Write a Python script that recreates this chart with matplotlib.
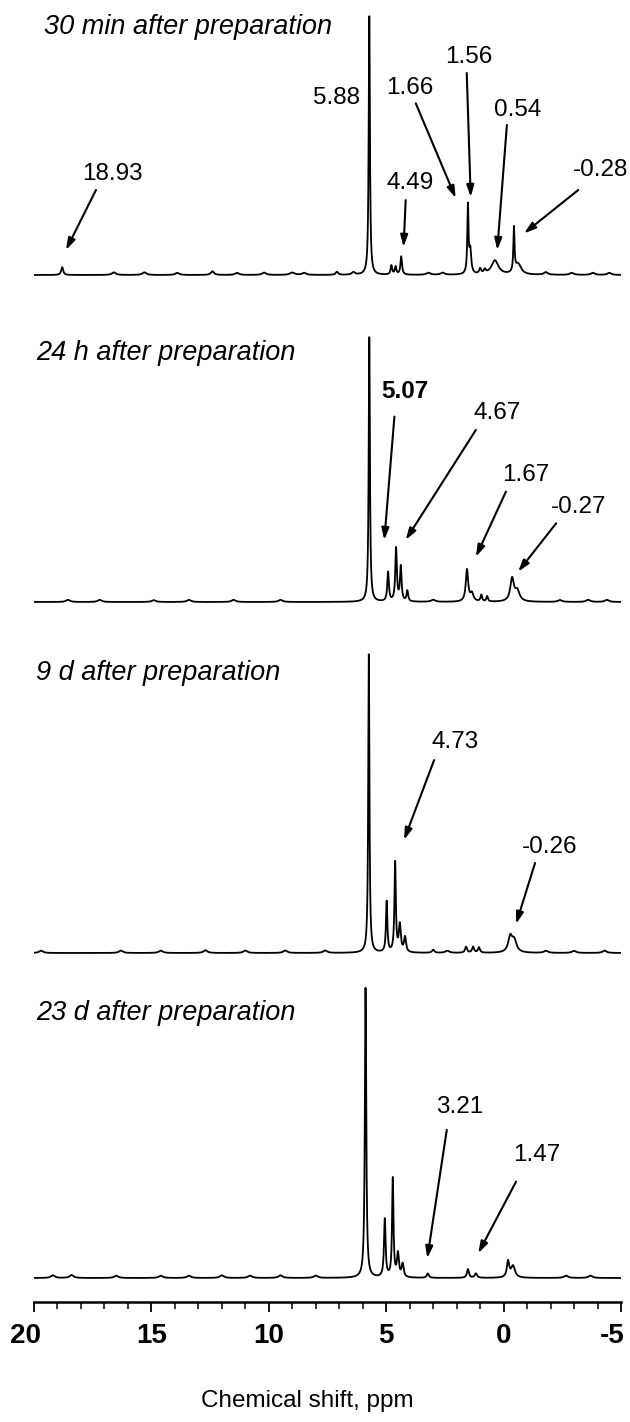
import numpy as np
import matplotlib
matplotlib.use("Agg")
import matplotlib.pyplot as plt
import matplotlib.transforms as mtrans
from matplotlib.ticker import MultipleLocator

plt.rcParams['font.family'] = ['Liberation Sans', 'DejaVu Sans']

# ---------------- data ----------------
titles = ["30 min after preparation", "24 h after preparation",
          "9 d after preparation", "23 d after preparation"]

# peak lists: position (ppm), relative height, half-width (ppm)
p1_pos = [5.72, 4.78, 4.60, 4.36, 1.52, 1.42, 1.00, 0.80, 0.37, -0.44, -0.62,
          18.80, 16.60, 15.30, 13.90, 12.40, 11.35, 10.20, 9.00, 8.50, 7.10, 6.40,
          3.20, 2.60, -1.80, -2.90, -3.80, -4.50]
p1_hgt = [1.00, 0.035, 0.030, 0.070, 0.260, 0.090, 0.020, 0.015, 0.055, 0.170, 0.040,
          0.030, 0.010, 0.010, 0.008, 0.014, 0.008, 0.009, 0.009, 0.008, 0.012, 0.010,
          0.008, 0.008, 0.010, 0.008, 0.008, 0.008]
p1_wid = [0.03, 0.04, 0.04, 0.04, 0.03, 0.05, 0.05, 0.05, 0.18, 0.03, 0.15,
          0.05, 0.10, 0.10, 0.10, 0.08, 0.10, 0.10, 0.12, 0.10, 0.06, 0.08,
          0.10, 0.10, 0.10, 0.10, 0.10, 0.10]

p2_pos = [5.72, 4.92, 4.58, 4.38, 4.10, 1.56, 1.35, 0.95, 0.70, -0.36, -0.58,
          18.55, 17.20, 14.90, 13.40, 11.50, 9.50, 3.00, -2.40, -3.60, -4.40]
p2_hgt = [1.00, 0.110, 0.200, 0.130, 0.040, 0.120, 0.030, 0.025, 0.020, 0.085, 0.040,
          0.008, 0.008, 0.007, 0.008, 0.008, 0.008, 0.008, 0.007, 0.008, 0.008]
p2_wid = [0.03, 0.04, 0.04, 0.04, 0.04, 0.06, 0.08, 0.04, 0.04, 0.09, 0.12,
          0.10, 0.10, 0.10, 0.10, 0.10, 0.10, 0.10, 0.10, 0.10, 0.10]

p3_pos = [5.74, 4.98, 4.62, 4.42, 4.20, 1.60, 1.30, 1.05, -0.28, -0.45,
          19.70, 16.30, 14.60, 12.70, 11.00, 9.30, 7.60, 3.00, 2.40, -1.80, -3.00, -4.30]
p3_hgt = [1.00, 0.170, 0.300, 0.090, 0.050, 0.020, 0.020, 0.018, 0.050, 0.040,
          0.008, 0.008, 0.008, 0.009, 0.008, 0.008, 0.008, 0.010, 0.007, 0.007, 0.007, 0.008]
p3_wid = [0.03, 0.035, 0.035, 0.05, 0.05, 0.05, 0.05, 0.05, 0.10, 0.12,
          0.10, 0.10, 0.10, 0.10, 0.10, 0.10, 0.10, 0.06, 0.10, 0.10, 0.10, 0.10]

p4_pos = [5.88, 5.06, 4.72, 4.50, 4.30, 3.23, 1.52, 1.18, -0.19, -0.40,
          19.20, 18.40, 16.50, 14.60, 13.40, 12.00, 10.80, 9.50, 8.00, -2.66, -3.70]
p4_hgt = [1.00, 0.200, 0.340, 0.080, 0.045, 0.015, 0.030, 0.015, 0.055, 0.040,
          0.009, 0.010, 0.008, 0.008, 0.008, 0.009, 0.008, 0.009, 0.008, 0.008, 0.008]
p4_wid = [0.035, 0.04, 0.035, 0.05, 0.05, 0.05, 0.05, 0.06, 0.06, 0.10,
          0.10, 0.10, 0.10, 0.10, 0.10, 0.10, 0.10, 0.10, 0.10, 0.10, 0.10]

peaks = [(p1_pos, p1_hgt, p1_wid), (p2_pos, p2_hgt, p2_wid),
         (p3_pos, p3_hgt, p3_wid), (p4_pos, p4_hgt, p4_wid)]

# annotation labels per panel
labels = [["18.93", "5.88", "4.49", "1.66", "1.56", "0.54", "-0.28"],
          ["5.07", "4.67", "1.67", "-0.27"],
          ["4.73", "-0.26"],
          ["3.21", "1.47"]]

tick_major = [20, 15, 10, 5, 0, -5]
tick_labels = ["20", "15", "10", "5", "0", "-5"]
xlabel = "Chemical shift, ppm"

# ---------------- layout ----------------
W, H = 630, 1422
fig = plt.figure(figsize=(W / 100, H / 100), dpi=100)

x_left, x_right = 34, 621
baselines = [275, 602, 953, 1278]
tops = [15, 336, 653, 987]
ylo = -0.0825

# annotation layout: (text_x, text_y, ha, tail_x, tail_y, head_x, head_y)
ann_layout = [
    [(16.68, 0.39, 'center', 17.36, 0.327, 18.64, 0.096),
     (7.12, 0.68, 'center', None, None, None, None),
     (4.00, 0.354, 'center', 4.17, 0.288, 4.26, 0.108),
     (4.00, 0.72, 'center', 3.74, 0.66, 2.04, 0.296),
     (1.47, 0.84, 'center', 1.57, 0.777, 1.40, 0.30),
     (-0.61, 0.635, 'center', -0.14, 0.577, 0.27, 0.096),
     (-5.30, 0.404, 'right', -3.18, 0.327, -0.87, 0.16)],
    [(4.21, 0.79, 'center', 4.65, 0.697, 5.08, 0.233),
     (0.27, 0.709, 'center', 1.18, 0.647, 4.17, 0.233),
     (-0.95, 0.477, 'center', -0.10, 0.415, 1.18, 0.17),
     (-3.20, 0.358, 'center', -2.24, 0.296, -0.62, 0.114)],
    [(2.07, 0.704, 'center', 2.96, 0.643, 4.24, 0.377),
     (-1.95, 0.354, 'center', -1.34, 0.30, -0.53, 0.097)],
    [(1.86, 0.589, 'center', 2.42, 0.509, 3.25, 0.068),
     (-1.41, 0.423, 'center', -0.53, 0.331, 1.08, 0.085)],
]
bold_labels = {"5.07"}
title_x = [44, 36, 36, 36]
title_y = [27, 353, 673, 1013]

xgrid = np.linspace(20, -5, 5000)

for i in range(4):
    b, t = baselines[i], tops[i]
    u = b - t
    bot_px = b - ylo * u
    ax_h_px = (1.0 - ylo) * u
    ax = fig.add_axes([x_left / W, 1 - bot_px / H, (x_right - x_left) / W, ax_h_px / H])
    pos, hgt, wid = peaks[i]
    y = np.zeros_like(xgrid)
    for p, h, w in zip(pos, hgt, wid):
        y += h / (1 + ((xgrid - p) / w) ** 2)
    ax.plot(xgrid, y, color='black', lw=1.3)
    ax.set_xlim(20, -5)
    ax.set_ylim(ylo, 1.0)
    ax.patch.set_visible(False)
    for s in ['top', 'right', 'left']:
        ax.spines[s].set_visible(False)
    ax.set_yticks([])
    if i < 3:
        ax.spines['bottom'].set_visible(False)
        ax.set_xticks([])
    else:
        ax.spines['bottom'].set_linewidth(1.8)
        ax.set_xticks(tick_major)
        ax.set_xticklabels(tick_labels, fontsize=20, fontweight='bold')
        ax.xaxis.set_minor_locator(MultipleLocator(1))
        ax.tick_params(axis='x', which='major', direction='out', length=7, width=1.3, pad=8)
        ax.tick_params(axis='x', which='minor', direction='out', length=5, width=1.1)
        for lbl in ax.get_xticklabels():
            if lbl.get_text() in ('20', '-5'):
                lbl.set_transform(lbl.get_transform() +
                                  mtrans.ScaledTranslation(-6 / 72, 0, fig.dpi_scale_trans))
        ax.set_xlabel(xlabel, fontsize=17.5)
        ax.xaxis.set_label_coords((307 - x_left) / (x_right - x_left), -99 / ax_h_px)
        ax.xaxis.label.set_va('center')

    for lab, lay in zip(labels[i], ann_layout[i]):
        tx, ty, ha, ax0, ay0, hx, hy = lay
        ax.text(tx, ty, lab, ha=ha, va='center', fontsize=17.5,
                fontweight='bold' if lab in bold_labels else 'normal', clip_on=False)
        if ax0 is not None:
            ax.annotate('', xy=(hx, hy), xytext=(ax0, ay0), annotation_clip=False,
                        arrowprops=dict(arrowstyle='-|>,head_length=0.7,head_width=0.22',
                                        color='black', lw=1.5, shrinkA=0, shrinkB=0))

    fig.text(title_x[i] / W, 1 - title_y[i] / H, titles[i], fontsize=19.5,
             fontstyle='italic', ha='left', va='center')

fig.savefig("out.png", dpi=100)
